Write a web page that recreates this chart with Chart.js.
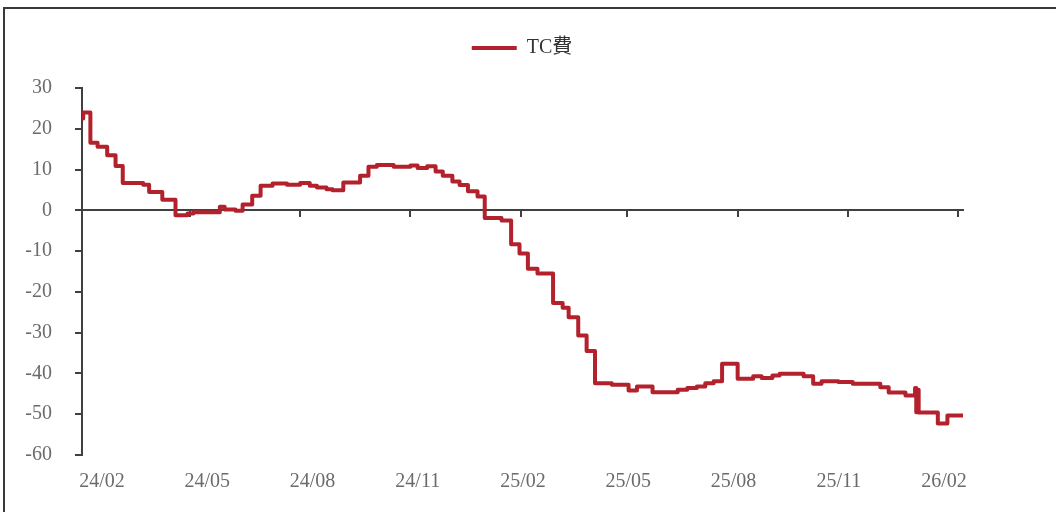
<!DOCTYPE html>
<html lang="zh-Hant">
<head>
<meta charset="UTF-8">
<title>TC費</title>
<script src="https://cdn.jsdelivr.net/npm/chart.js"></script>
<style>
    body { margin: 0; background: #fff; }
    .wrap { position: relative; width: 1056px; height: 512px; overflow: hidden; }
    .frame {
        position: absolute; left: 3px; top: 7px; width: 1100px; height: 600px;
        border-left: 2px solid #3a3a3a; border-top: 2px solid #3a3a3a;
    }
    canvas { position: absolute; left: 0; top: 0; }
</style>
</head>
<body>
<div class="wrap">
    <div class="frame"></div>
    <canvas id="tcChart" width="1056" height="512"></canvas>
</div>
<script>
// TC fee (step changes)
const dates = [
    '2024-02-01', '2024-02-02', '2024-02-08', '2024-02-14', '2024-02-22', '2024-02-29',
    '2024-03-06', '2024-03-23', '2024-03-28', '2024-04-08', '2024-04-19', '2024-04-29',
    '2024-05-04', '2024-05-26', '2024-05-30', '2024-06-08', '2024-06-14', '2024-06-22',
    '2024-06-29', '2024-07-09', '2024-07-21', '2024-08-01', '2024-08-09', '2024-08-15',
    '2024-08-23', '2024-08-28', '2024-09-06', '2024-09-20', '2024-09-27', '2024-10-04',
    '2024-10-18', '2024-11-01', '2024-11-07', '2024-11-15', '2024-11-22', '2024-11-28',
    '2024-12-06', '2024-12-12', '2024-12-19', '2024-12-27', '2025-01-02', '2025-01-16',
    '2025-01-24', '2025-01-31', '2025-02-07', '2025-02-15', '2025-02-28', '2025-03-08',
    '2025-03-13', '2025-03-21', '2025-03-28', '2025-04-04', '2025-04-18', '2025-05-02',
    '2025-05-09', '2025-05-22', '2025-06-12', '2025-06-20', '2025-06-28', '2025-07-05',
    '2025-07-12', '2025-07-19', '2025-08-01', '2025-08-14', '2025-08-21', '2025-08-30',
    '2025-09-05', '2025-09-25', '2025-10-03', '2025-10-10', '2025-10-24', '2025-11-05',
    '2025-11-28', '2025-12-05', '2025-12-19', '2025-12-27', '2025-12-28', '2025-12-29',
    '2025-12-30', '2026-01-15', '2026-01-23', '2026-02-05'
];
const tcFee = [
    22.5, 24.0, 16.6, 15.6, 13.5, 10.9,
    6.7, 6.3, 4.5, 2.6, -1.2, -0.8,
    -0.5, 0.9, 0.2, -0.1, 1.4, 3.6,
    6.0, 6.6, 6.3, 6.7, 6.0, 5.6,
    5.2, 4.9, 6.8, 8.5, 10.7, 11.1,
    10.7, 11.0, 10.4, 10.8, 9.5, 8.5,
    7.1, 6.2, 4.7, 3.4, -1.9, -2.5,
    -8.3, -10.6, -14.3, -15.5, -22.7, -23.9,
    -26.2, -30.7, -34.5, -42.4, -42.8, -44.2,
    -43.2, -44.6, -44.0, -43.6, -43.2, -42.4,
    -41.9, -37.6, -41.3, -40.7, -41.1, -40.5,
    -40.1, -40.7, -42.5, -41.9, -42.1, -42.5,
    -43.4, -44.7, -45.4, -43.6, -49.5, -44.0,
    -49.6, -52.3, -50.3, -50.5
];
const tickDates = ['2024-02-01', '2024-05-01', '2024-08-01', '2024-11-01', '2025-02-01',
                   '2025-05-01', '2025-08-01', '2025-11-01', '2026-02-01'];
const tickLabels = ['24/02', '24/05', '24/08', '24/11', '25/02', '25/05', '25/08', '25/11', '26/02'];

const DAY = 86400000;
const start = Date.parse(dates[0]);
const dayOf = d => (Date.parse(d) - start) / DAY;

const points = dates.map((d, i) => ({ x: dayOf(d), y: tcFee[i] }));
const tickDays = tickDates.map(dayOf);

const serif = "'Liberation Serif', 'Times New Roman', 'Noto Sans CJK TC', serif";
const axisColor = '#404040';
const red = '#B3212D';

// leave room between legend and plot
const legendGap = {
    id: 'legendGap',
    beforeInit(chart) {
        const fit = chart.legend.fit;
        chart.legend.fit = function () {
            fit.bind(chart.legend)();
            this.height += 20;
        };
    }
};

new Chart(document.getElementById('tcChart'), {
    type: 'line',
    data: {
        datasets: [{
            label: 'TC費',
            data: points,
            borderColor: red,
            backgroundColor: red,
            borderWidth: 4,
            borderJoinStyle: 'round',
            pointRadius: 0,
            stepped: true,
            fill: false,
        }]
    },
    options: {
        responsive: false,
        devicePixelRatio: 1,
        animation: false,
        layout: { padding: { left: 0, right: 12, top: 28, bottom: 0 } },
        plugins: {
            tooltip: { enabled: false },
            legend: {
                position: 'top',
                labels: {
                    boxWidth: 45,
                    boxHeight: 4,
                    color: '#333',
                    font: { family: serif, size: 20 },
                    generateLabels: chart =>
                        Chart.defaults.plugins.legend.labels.generateLabels(chart)
                            .map(l => ({ ...l, lineWidth: 0 })),
                },
            },
        },
        scales: {
            x: {
                type: 'linear',
                position: { y: 0 },
                min: 0,
                max: dayOf('2026-02-05'),
                afterBuildTicks: s => { s.ticks = tickDays.map(v => ({ value: v })); },
                ticks: { callback: () => '', padding: 0 },
                grid: { drawOnChartArea: false, tickLength: 6, color: axisColor, lineWidth: 2 },
                border: { color: axisColor, width: 2 },
            },
            xl: {
                type: 'linear',
                position: 'bottom',
                min: -0.19,
                max: 8.18,
                afterBuildTicks: s => { s.ticks = tickLabels.map((_, i) => ({ value: i })); },
                afterFit: s => { s.height = 57; },
                ticks: {
                    callback: v => tickLabels[v],
                    color: '#6b6b6b',
                    padding: 15,
                    maxRotation: 0,
                    font: { family: serif, size: 20 },
                },
                grid: { display: false, drawTicks: false },
                border: { display: false },
            },
            y: {
                min: -60,
                max: 30,
                afterFit: s => { s.width = 82; },
                ticks: {
                    stepSize: 10,
                    color: '#6b6b6b',
                    padding: 23,
                    font: { family: serif, size: 20 },
                },
                grid: { drawOnChartArea: false, tickLength: 7, color: axisColor, lineWidth: 2 },
                border: { color: axisColor, width: 2 },
            },
            pad: {
                position: 'right',
                afterFit: s => { s.width = 81; },
                ticks: { display: false },
                grid: { display: false },
                border: { display: false },
            },
        },
    },
    plugins: [legendGap],
});
</script>
</body>
</html>
